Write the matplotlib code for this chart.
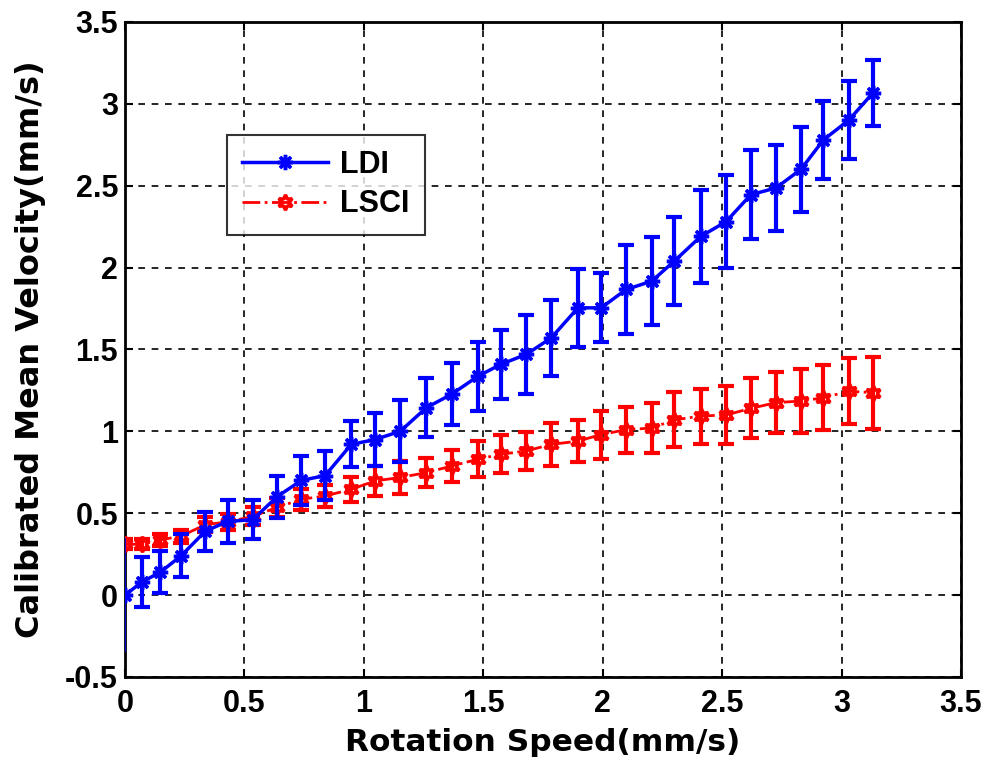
import numpy as np
import matplotlib
matplotlib.use("Agg")
import matplotlib.pyplot as plt

# rotation speed (mm/s)
speed = [0, 0.071, 0.148, 0.235, 0.336, 0.43, 0.534, 0.636, 0.738, 0.838, 0.947,
         1.047, 1.152, 1.262, 1.367, 1.478, 1.575, 1.68, 1.784, 1.896, 1.993,
         2.098, 2.205, 2.30, 2.41, 2.516, 2.62, 2.725, 2.83, 2.924, 3.03, 3.13]

ldi = [0, 0.08, 0.14, 0.24, 0.39, 0.45, 0.46, 0.60, 0.70, 0.73, 0.92, 0.95,
       1.0, 1.145, 1.226, 1.337, 1.41, 1.47, 1.57, 1.754, 1.754, 1.866, 1.917,
       2.04, 2.19, 2.28, 2.445, 2.486, 2.60, 2.78, 2.90, 3.065]
ldi_err = [0.35, 0.15, 0.13, 0.13, 0.12, 0.13, 0.12, 0.13, 0.15, 0.15, 0.14, 0.16,
           0.19, 0.18, 0.19, 0.21, 0.21, 0.24, 0.23, 0.24, 0.21, 0.27, 0.27, 0.27,
           0.285, 0.285, 0.27, 0.265, 0.26, 0.24, 0.24, 0.2]

lsci = [0.31, 0.31, 0.337, 0.36, 0.43, 0.447, 0.48, 0.535, 0.585, 0.605, 0.646,
        0.697, 0.718, 0.748, 0.788, 0.83, 0.86, 0.88, 0.92, 0.94, 0.98, 1.01,
        1.02, 1.07, 1.093, 1.10, 1.14, 1.175, 1.185, 1.205, 1.245, 1.236]
lsci_err = [0.03, 0.03, 0.035, 0.04, 0.045, 0.05, 0.055, 0.06, 0.065, 0.07, 0.075,
            0.09, 0.1, 0.09, 0.097, 0.11, 0.115, 0.115, 0.13, 0.13, 0.147, 0.14,
            0.155, 0.168, 0.168, 0.178, 0.183, 0.188, 0.193, 0.2, 0.2, 0.22]

plt.rcParams['font.family'] = ['Liberation Sans', 'DejaVu Sans']
plt.rcParams['font.weight'] = 'bold'

fig = plt.figure(figsize=(9.86, 7.69), dpi=100)
ax = fig.add_axes([0.1268, 0.1197, 0.8479, 0.8518])

hexagram = (6, 1, 0)
asterisk = (8, 2, 0)

# error bars
ax.errorbar(speed, lsci, yerr=lsci_err, color='red', ls='none',
            elinewidth=3, capsize=6, capthick=3, zorder=3)
ax.errorbar(speed[1:], ldi[1:], yerr=ldi_err[1:], color='blue', ls='none',
            elinewidth=3, capsize=6, capthick=3, zorder=4)
ax.errorbar(speed[:1], ldi[:1], yerr=ldi_err[:1], color='blue', ls='none',
            elinewidth=1.2, capsize=0, zorder=4)

# lines
ax.plot(speed, ldi, color='blue', ls='-', lw=2.5, marker=asterisk, ms=11,
        mec='blue', mew=2.5, label='LDI', zorder=5)
ax.plot(speed, lsci, color='red', ls='-.', lw=2, marker=hexagram, ms=11,
        mfc='none', mec='red', mew=2.5, label='LSCI', zorder=3.5)

ax.set_xlim(0, 3.5)
ax.set_ylim(-0.5, 3.5)
ax.set_xticks(np.arange(0, 3.51, 0.5))
ax.set_yticks(np.arange(-0.5, 3.51, 0.5))
ax.set_xticklabels(['0', '0.5', '1', '1.5', '2', '2.5', '3', '3.5'])
ax.set_yticklabels(['-0.5', '0', '0.5', '1', '1.5', '2', '2.5', '3', '3.5'])
ax.tick_params(direction='in', labelsize=22, width=1.5, length=6, top=True, right=True)
ax.tick_params(axis='x', pad=9)
ax.tick_params(axis='y', pad=5)
for lab in ax.get_xticklabels() + ax.get_yticklabels():
    lab.set_fontweight('bold')
ax.grid(True, color='black', ls=(0, (4, 4)), lw=1.2)
for s in ax.spines.values():
    s.set_linewidth(2)

ax.set_xlabel('Rotation Speed(mm/s)', fontsize=22.5, fontweight='bold',
              family='DejaVu Sans', labelpad=6)
ax.set_ylabel('Calibrated Mean Velocity(mm/s)', fontsize=23, fontweight='bold',
              family='DejaVu Sans', labelpad=14)

leg = ax.legend(loc='upper left', bbox_to_anchor=(0.122, 0.8275), borderaxespad=0,
                fontsize=22, frameon=True, fancybox=False, edgecolor='black',
                handlelength=2.8, borderpad=0.5, labelspacing=0.3, handletextpad=0.4)
leg.get_frame().set_linewidth(1.5)
for t in leg.get_texts():
    t.set_fontweight('bold')

fig.savefig('out.png', dpi=100)
